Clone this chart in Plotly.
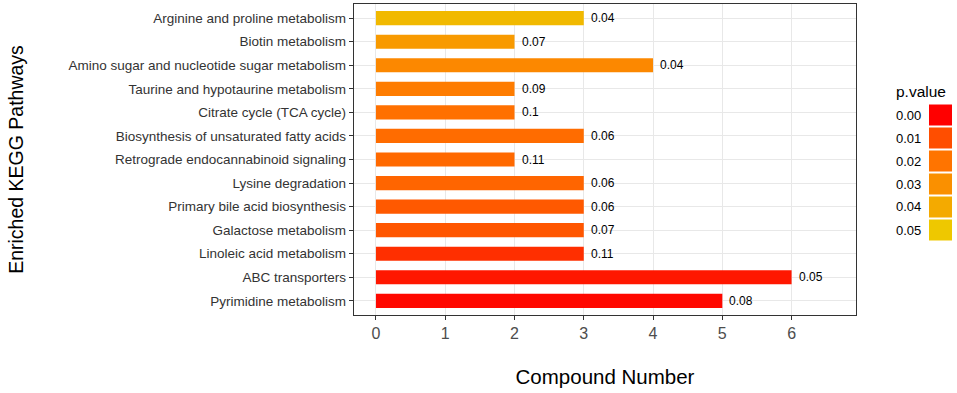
import plotly.graph_objects as go

pathways = [
    "Arginine and proline metabolism",
    "Biotin metabolism",
    "Amino sugar and nucleotide sugar metabolism",
    "Taurine and hypotaurine metabolism",
    "Citrate cycle (TCA cycle)",
    "Biosynthesis of unsaturated fatty acids",
    "Retrograde endocannabinoid signaling",
    "Lysine degradation",
    "Primary bile acid biosynthesis",
    "Galactose metabolism",
    "Linoleic acid metabolism",
    "ABC transporters",
    "Pyrimidine metabolism",
]
compound_number = [3, 2, 4, 2, 2, 3, 2, 3, 3, 3, 3, 6, 5]
bar_labels = ["0.04", "0.07", "0.04", "0.09", "0.1", "0.06", "0.11", "0.06", "0.06", "0.07", "0.11", "0.05", "0.08"]
p_values = [0.045, 0.034, 0.027, 0.023, 0.019, 0.018, 0.017, 0.016, 0.013, 0.012, 0.006, 0.003, 0.001]

legend_ticks = [0.00, 0.01, 0.02, 0.03, 0.04, 0.05]
legend_labels = ["0.00", "0.01", "0.02", "0.03", "0.04", "0.05"]
legend_colors = ["#FF0000", "#FF4E00", "#FF7400", "#FA9000", "#F4AA00", "#EEC800"]


def hex_to_rgb(h):
    h = h.lstrip("#")
    return tuple(int(h[i:i + 2], 16) for i in (0, 2, 4))


def color_for(p):
    if p <= legend_ticks[0]:
        return legend_colors[0]
    for i in range(len(legend_ticks) - 1):
        a, b = legend_ticks[i], legend_ticks[i + 1]
        if a <= p <= b:
            t = (p - a) / (b - a)
            c1, c2 = hex_to_rgb(legend_colors[i]), hex_to_rgb(legend_colors[i + 1])
            c = [round(c1[k] + (c2[k] - c1[k]) * t) for k in range(3)]
            return "rgb(%d,%d,%d)" % tuple(c)
    return legend_colors[-1]


bar_colors = [color_for(p) for p in p_values]

FONT = "Liberation Sans, Arial, sans-serif"
L, R, T, B = 354, 856, 4, 315
PW, PH = R - L, B - T


def px(x):
    return (x - L) / PW


def py(y):
    return (B - y) / PH


fig = go.Figure()
fig.add_trace(go.Bar(
    x=compound_number,
    y=pathways,
    orientation="h",
    marker=dict(color=bar_colors, line=dict(width=0)),
    showlegend=False,
    hoverinfo="x+y",
))

for xv, yv, lab in zip(compound_number, pathways, bar_labels):
    fig.add_annotation(x=xv, y=yv, text=lab, xanchor="left", yanchor="middle",
                       xshift=5, showarrow=False,
                       font=dict(family=FONT, size=12, color="black"))

# custom legend (ggplot-style key boxes)
fig.add_annotation(xref="paper", yref="paper", x=px(894), y=py(91),
                   text="p.value", showarrow=False, xanchor="left", yanchor="middle",
                   font=dict(family=FONT, size=15.5, color="black"))
for i, (lab, col) in enumerate(zip(legend_labels, legend_colors)):
    yc = 115 + i * 23
    fig.add_shape(type="rect", xref="paper", yref="paper",
                  x0=px(929), x1=px(952),
                  y0=py(yc + 10.5), y1=py(yc - 10.5),
                  fillcolor=col, line=dict(width=0))
    fig.add_annotation(xref="paper", yref="paper", x=px(894), y=py(yc),
                       text=lab, showarrow=False, xanchor="left", yanchor="middle",
                       font=dict(family=FONT, size=13, color="black"))

fig.update_layout(
    width=957, height=393,
    margin=dict(l=L, r=957 - R, t=T, b=393 - B, autoexpand=False),
    plot_bgcolor="white", paper_bgcolor="white",
    bargap=0.4,
    font=dict(family=FONT, color="black"),
)
fig.update_xaxes(
    automargin=False,
    range=[-0.317, 6.93], tickmode="array", tickvals=[0, 1, 2, 3, 4, 5, 6],
    ticks="outside", ticklen=4, tickcolor="#333333",
    tickfont=dict(size=16, color="#4D4D4D"),
    showgrid=True, gridcolor="#E8E8E8", gridwidth=1.2, zeroline=False,
    showline=True, linecolor="#333333", linewidth=1.4, mirror=True,
    title=dict(text="Compound Number", font=dict(size=20.5, color="black"), standoff=28),
)
fig.update_yaxes(
    automargin=False,
    categoryorder="array", categoryarray=pathways[::-1],
    range=[-0.6, 12.6],
    ticks="outside", ticklen=4, tickcolor="#333333",
    tickfont=dict(size=13.5, color="#333333"),
    showgrid=True, gridcolor="#E8E8E8", gridwidth=1.2, zeroline=False,
    showline=True, linecolor="#333333", linewidth=1.4, mirror=True,
    title=dict(text="Enriched KEGG Pathways", font=dict(size=19.5, color="black"), standoff=39),
)

fig.write_html(
    "out.html",
    config={"displayModeBar": False},
    post_script="document.body.style.margin='0px';document.body.style.overflow='hidden';",
)
